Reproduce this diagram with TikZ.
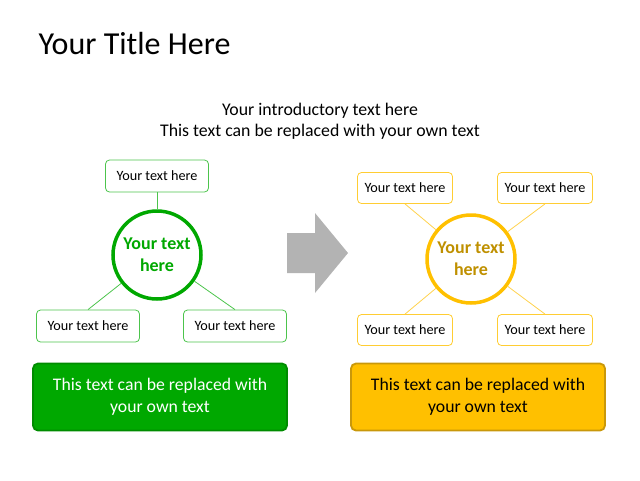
\documentclass[tikz,border=0pt]{standalone}
\usepackage{fontspec}
\setmainfont{Carlito}
\usetikzlibrary{positioning}
\definecolor{hubgreen}{HTML}{00A800}
\definecolor{linegreen}{HTML}{4CC44C}
\definecolor{edgegreen}{HTML}{008C00}
\definecolor{hubgold}{HTML}{FFC000}
\definecolor{linegold}{HTML}{FFD24D}
\definecolor{edgegold}{HTML}{C9980A}
\definecolor{textgold}{HTML}{BF9000}
\definecolor{shiftgray}{HTML}{B3B3B3}

\begin{document}
\begin{tikzpicture}[x=1pt,y=-1pt,
  every node/.style={font=\fontsize{14.2}{16}\selectfont},
  leaf/.style={draw,line width=0.8pt,rounded corners=4pt,minimum height=32pt,inner sep=0pt},
  gleaf/.style={leaf,draw=linegreen,minimum width=103pt},
  yleaf/.style={leaf,draw=hubgold!80,minimum width=95pt,minimum height=31pt},
  hub/.style={circle,line width=3.5pt,minimum size=88pt,inner sep=0pt,align=center,
    font=\fontsize{18}{22}\selectfont\bfseries},
  note/.style={rounded corners=5pt,line width=1.8pt,minimum width=254pt,minimum height=67pt,
    align=center,font=\fontsize{17.7}{22}\selectfont},
  spoke/.style={line width=0.8pt},
]
\useasboundingbox (0,0) rectangle (640,480);

% title and intro
\node[anchor=west,font=\fontsize{32}{36}\selectfont] (title) at (35,44) {Your Title Here};
\node[align=center,font=\fontsize{17.8}{21}\selectfont] (intro) at (320,121)
  {Your introductory text here\\This text can be replaced with your own text};

% the green side
\node[hub,draw=hubgreen,text=hubgreen] (ghub) at (157,255) {Your text\\here};
\node[gleaf] (gtop) at (157,176) {Your text here};
\node[gleaf] (gleft) at (88,326) {Your text here};
\node[gleaf] (gright) at (235,326) {Your text here};
\draw[spoke,linegreen] (gtop) -- (ghub);
\draw[spoke,linegreen] (gleft.north) -- (ghub);
\draw[spoke,linegreen] (gright.north) -- (ghub);

% the arrow
\fill[shiftgray] (287,233) -- (315,233) -- (315,213) -- (348,253) -- (315,293)
  -- (315,273) -- (287,273) -- cycle;

% the gold side
\node[hub,draw=hubgold,text=textgold] (yhub) at (471,259) {Your text\\here};
\node[yleaf] (ytl) at (405,188) {Your text here};
\node[yleaf] (ytr) at (545,188) {Your text here};
\node[yleaf] (ybl) at (405,330) {Your text here};
\node[yleaf] (ybr) at (545,330) {Your text here};
\foreach \n in {ytl,ytr}
  \draw[spoke,linegold] (\n.south) -- (yhub);
\foreach \n in {ybl,ybr}
  \draw[spoke,linegold] (\n.north) -- (yhub);

% the notes
\node[note,draw=edgegreen,fill=hubgreen,text=white] (gnote) at (160,397)
  {This text can be replaced with\\your own text};
\node[note,draw=edgegold,fill=hubgold] (ynote) at (478,397)
  {This text can be replaced with\\your own text};
\end{tikzpicture}
\end{document}
